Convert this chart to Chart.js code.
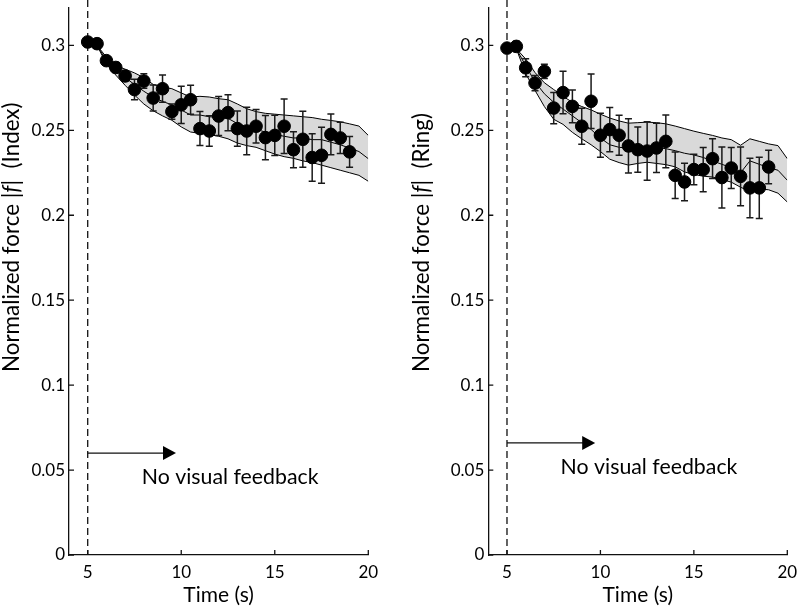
<!DOCTYPE html>
<html><head><meta charset="utf-8">
<script src="https://cdn.jsdelivr.net/npm/chart.js@4.4.1/dist/chart.umd.min.js"></script>
<style>
html,body{margin:0;padding:0;background:#fff;}
#wrap{position:relative;width:800px;height:608px;overflow:hidden;}
canvas{position:absolute;top:0;}
</style></head><body>
<div id="wrap">
<canvas id="c1" width="400" height="608" style="left:0"></canvas>
<canvas id="c2" width="400" height="608" style="left:400px"></canvas>
</div>
<script>
// ---- data ----
const timePoints = [5,5.5,6,6.5,7,7.5,8,8.5,9,9.5,10,10.5,11,11.5,12,12.5,13,13.5,14,14.5,15,15.5,16,16.5,17,17.5,18,18.5,19];

const indexMean = [0.302,0.301,0.291,0.287,0.282,0.274,0.279,0.269,0.2745,0.261,0.265,0.268,0.251,0.2496,0.2584,0.2604,0.251,0.2496,0.2524,0.2457,0.247,0.2524,0.2386,0.2447,0.234,0.2353,0.2476,0.2455,0.2373];
const indexErr  = [0.001,0.002,0.002,0.003,0.003,0.006,0.0043,0.0076,0.008,0.0045,0.011,0.0085,0.010,0.009,0.0115,0.0106,0.0104,0.014,0.0098,0.013,0.0118,0.016,0.0106,0.0165,0.014,0.0165,0.012,0.0092,0.0091];

const ringMean = [0.2984,0.2994,0.2868,0.2778,0.2847,0.2631,0.2722,0.2641,0.2524,0.2671,0.2471,0.2504,0.2471,0.2408,0.2386,0.2378,0.2396,0.2435,0.2235,0.2196,0.2269,0.2269,0.2333,0.2222,0.2278,0.2229,0.2161,0.2161,0.2284];
const ringErr  = [0.001,0.003,0.0053,0.0045,0.0042,0.0092,0.0125,0.0096,0.0106,0.016,0.013,0.013,0.0118,0.016,0.0133,0.0172,0.0145,0.0155,0.0137,0.011,0.009,0.013,0.0117,0.018,0.0121,0.0173,0.0175,0.018,0.0098];

const bandTime = [5.5,6,6.5,7,7.5,8,8.5,9,9.5,10,10.5,11,11.5,12,12.5,13,13.5,14,14.5,15,15.5,16,16.5,17,17.5,18,18.5,19,19.5,20];

const indexUpper  = [0.300,0.293,0.288,0.286,0.2838,0.281,0.277,0.2755,0.2745,0.272,0.2696,0.270,0.2696,0.2686,0.268,0.2655,0.2627,0.261,0.260,0.2595,0.259,0.2585,0.258,0.2575,0.2565,0.2558,0.255,0.2538,0.2525,0.2470];
const indexCenter = [0.300,0.291,0.285,0.281,0.277,0.273,0.2695,0.267,0.265,0.262,0.259,0.259,0.258,0.2575,0.257,0.254,0.252,0.2505,0.249,0.2475,0.2465,0.2455,0.2455,0.2445,0.2445,0.243,0.2415,0.2395,0.2375,0.2333];
const indexLower  = [0.300,0.289,0.2825,0.2765,0.2708,0.2655,0.2615,0.2585,0.2559,0.252,0.249,0.2482,0.2475,0.2465,0.245,0.2425,0.241,0.240,0.238,0.236,0.2345,0.2335,0.232,0.231,0.2295,0.228,0.2265,0.225,0.2235,0.2200];

const ringUpper  = [0.298,0.292,0.284,0.278,0.274,0.270,0.2665,0.264,0.262,0.2595,0.2572,0.2555,0.2542,0.2545,0.2548,0.2545,0.2538,0.2525,0.251,0.2495,0.2482,0.247,0.2455,0.2445,0.2412,0.2450,0.2435,0.2420,0.2410,0.2333];
const ringCenter = [0.298,0.288,0.2785,0.2715,0.2665,0.2625,0.2585,0.2545,0.2505,0.2455,0.2415,0.2400,0.2395,0.2400,0.2402,0.2398,0.2392,0.2380,0.2365,0.2355,0.2340,0.2320,0.2300,0.2280,0.2250,0.2320,0.2300,0.2280,0.2265,0.2206];
const ringLower  = [0.298,0.2833,0.2735,0.2640,0.2565,0.2535,0.2488,0.2450,0.2415,0.2375,0.2330,0.2310,0.2295,0.2305,0.2312,0.2305,0.2298,0.2285,0.2255,0.2240,0.2230,0.2225,0.2210,0.2195,0.2165,0.2140,0.2155,0.2150,0.2130,0.2078];

const yTicks = [0,0.05,0.1,0.15,0.2,0.25,0.3];
const yTickLabels = ['0','0.05','0.1','0.15','0.2','0.25','0.3'];
const xTicks = [5,10,15,20];
const xTickLabels = ['5','10','15','20'];

const feedbackStart = 5;
const annotationText = 'No visual feedback';

// ---- drawing ----
const FONT = 'Lato, "Open Sans", sans-serif';
function pairs(xs, ys){ return xs.map((x,i)=>({x:x, y:ys[i]})); }

function makeChart(canvasId, cfg){
  const decor = {
    id: 'decor_' + canvasId,
    beforeDatasetsDraw(chart){
      const {ctx, scales:{x}, chartArea} = chart;
      const px = x.getPixelForValue(feedbackStart);
      ctx.save(); ctx.strokeStyle = '#111'; ctx.lineWidth = 1.3; ctx.setLineDash([7,4]);
      ctx.beginPath(); ctx.moveTo(px, 0); ctx.lineTo(px, chartArea.bottom); ctx.stroke();
      ctx.restore();
    },
    beforeDatasetDraw(chart, args){
      if (args.index !== 0) return;
      const {ctx, scales:{x, y}} = chart;
      ctx.save(); ctx.strokeStyle = '#1a1a1a'; ctx.lineWidth = 1.5;
      cfg.time.forEach((t,i)=>{
        const px = x.getPixelForValue(t);
        const top = y.getPixelForValue(cfg.mean[i] + cfg.err[i]);
        const bot = y.getPixelForValue(cfg.mean[i] - cfg.err[i]);
        ctx.beginPath();
        ctx.moveTo(px, top); ctx.lineTo(px, bot);
        ctx.moveTo(px-3.5, top); ctx.lineTo(px+3.5, top);
        ctx.moveTo(px-3.5, bot); ctx.lineTo(px+3.5, bot);
        ctx.stroke();
      });
      ctx.restore();
    },
    afterDraw(chart){
      const {ctx, scales:{x, y}, chartArea} = chart;
      ctx.save(); ctx.strokeStyle = '#111'; ctx.lineWidth = 1.3;
      // inward ticks
      ctx.beginPath();
      xTicks.forEach(v=>{ const px = x.getPixelForValue(v); ctx.moveTo(px, chartArea.bottom); ctx.lineTo(px, chartArea.bottom - 5); });
      yTicks.forEach(v=>{ const py = y.getPixelForValue(v); ctx.moveTo(chartArea.left, py); ctx.lineTo(chartArea.left + 5, py); });
      ctx.stroke();
      // arrow
      const ax0 = x.getPixelForValue(feedbackStart), ax1 = x.getPixelForValue(cfg.arrowEnd), ay = y.getPixelForValue(cfg.arrowY);
      ctx.beginPath(); ctx.moveTo(ax0, ay); ctx.lineTo(ax1 - 12, ay); ctx.stroke();
      ctx.fillStyle = '#000';
      ctx.beginPath(); ctx.moveTo(ax1, ay); ctx.lineTo(ax1 - 13, ay - 7); ctx.lineTo(ax1 - 13, ay + 7); ctx.closePath(); ctx.fill();
      // annotation
      ctx.font = '21.3px ' + FONT; ctx.textBaseline = 'middle'; ctx.textAlign = 'left';
      ctx.fillText(annotationText, x.getPixelForValue(cfg.textX), y.getPixelForValue(cfg.textY));
      // rotated y title with italic f, starting at the bottom
      const parts = [['Normalized force |', 'normal'], ['f', 'italic'], ['|  (' + cfg.label + ')', 'normal']];
      ctx.translate(cfg.titleX, cfg.titleStart);
      ctx.rotate(-Math.PI/2);
      let cx = 0;
      parts.forEach(p=>{
        ctx.font = p[1] + ' 22.4px ' + FONT;
        ctx.fillText(p[0], cx, 0);
        cx += ctx.measureText(p[0]).width;
      });
      ctx.restore();
    }
  };

  return new Chart(document.getElementById(canvasId), {
    type: 'line',
    data: { datasets: [
      { data: pairs(cfg.time, cfg.mean), showLine: false, pointRadius: 6.3, pointHoverRadius: 6.3,
        pointBackgroundColor: '#000', pointBorderColor: '#000', pointBorderWidth: 1, order: 0 },
      { data: pairs(bandTime, cfg.center), borderColor: '#000', borderWidth: 1, pointRadius: 0, fill: false, order: 1 },
      { data: pairs(bandTime, cfg.upper), borderColor: '#000', borderWidth: 1, pointRadius: 0,
        fill: '+1', backgroundColor: '#d9d9d9', order: 3 },
      { data: pairs(bandTime, cfg.lower), borderColor: '#000', borderWidth: 1, pointRadius: 0, fill: false, order: 2 }
    ]},
    options: {
      responsive: false, animation: false, devicePixelRatio: 1,
      layout: { padding: { left: 0, right: cfg.padRight, top: 8, bottom: 0 } },
      plugins: { legend: { display: false }, tooltip: { enabled: false } },
      scales: {
        x: { type: 'linear', min: 4, max: 20,
          afterBuildTicks: s => { s.ticks = xTicks.map(v=>({value:v})); },
          afterFit: s => { s.height = 53; s.paddingLeft = 0; s.paddingRight = 0; },
          ticks: { color: '#000', font: { family: FONT, size: 17 }, padding: 7, maxRotation: 0,
                   callback: (v) => xTickLabels[xTicks.indexOf(v)] },
          grid: { display: false, drawTicks: false }, border: { display: true, color: '#111', width: 1.3 },
          title: { display: true, text: 'Time (s)', color: '#000', font: { family: FONT, size: 21 }, padding: { top: 0, bottom: 0 } } },
        y: { type: 'linear', min: 0, max: 0.322,
          afterBuildTicks: s => { s.ticks = yTicks.map(v=>({value:v})); },
          afterFit: s => { s.width = cfg.axisLeft; s.paddingTop = 0; s.paddingBottom = 0; },
          ticks: { color: '#000', font: { family: FONT, size: 17 }, padding: 4,
                   callback: (v) => yTickLabels[yTicks.indexOf(v)] },
          grid: { display: false, drawTicks: false }, border: { display: true, color: '#111', width: 1.3 } }
      }
    },
    plugins: [decor]
  });
}

makeChart('c1', { time: timePoints, mean: indexMean, err: indexErr,
  upper: indexUpper, center: indexCenter, lower: indexLower,
  label: 'Index', axisLeft: 69, padRight: 31.7, titleX: 12, titleStart: 372,
  arrowY: 0.06, arrowEnd: 9.72, textX: 7.89, textY: 0.046 });

makeChart('c2', { time: timePoints, mean: ringMean, err: ringErr,
  upper: ringUpper, center: ringCenter, lower: ringLower,
  label: 'Ring', axisLeft: 88.3, padRight: 12.7, titleX: 22, titleStart: 372,
  arrowY: 0.066, arrowEnd: 9.72, textX: 7.87, textY: 0.052 });
</script>
</body></html>
